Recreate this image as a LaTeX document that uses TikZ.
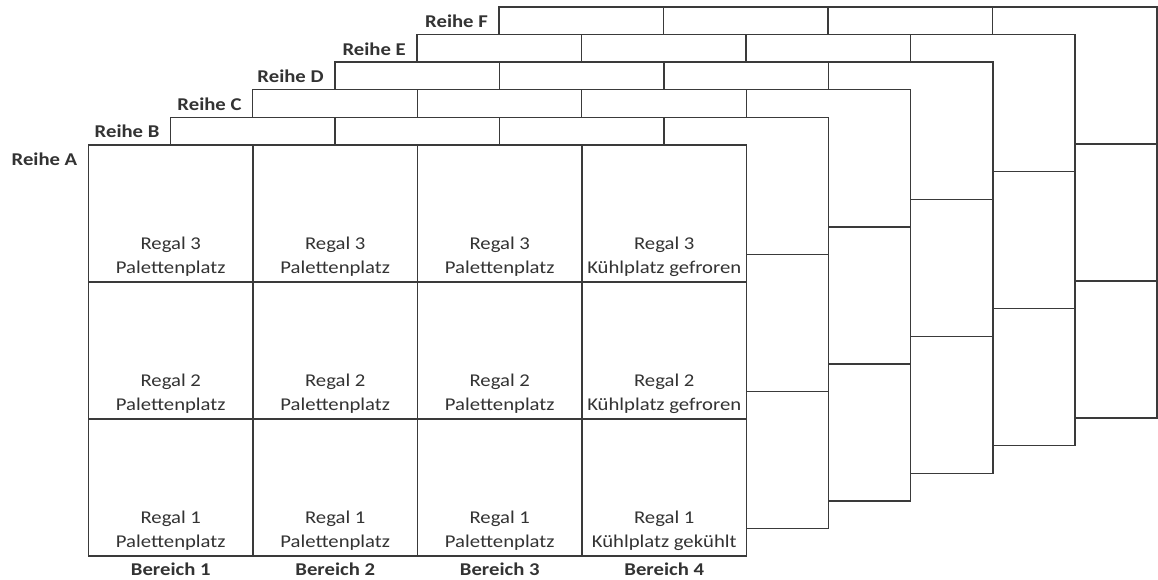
\documentclass[tikz,border=0pt]{standalone}
\usepackage{fontspec}
\setmainfont{Carlito}[FakeStretch=1.15]
\definecolor{ln}{HTML}{3A3A3A}
\definecolor{tx}{HTML}{333333}
\begin{document}
\begin{tikzpicture}[x=1pt,y=-1pt,
  layer/.style={draw=ln, line width=1.4pt, fill=white},
  gridline/.style={draw=ln, line width=1.4pt},
  celltext/.style={inner sep=0pt, anchor=base, text=tx, font=\fontsize{18}{22}\selectfont},
  reihe/.style={inner sep=0pt, anchor=base east, text=tx, font=\fontsize{18}{22}\selectfont\bfseries},
  bereich/.style={inner sep=0pt, anchor=base, text=tx, font=\fontsize{18}{22}\selectfont\bfseries}]
\useasboundingbox (0,0) rectangle (1158,580);
\fill[white] (0,0) rectangle (1158,580);
\foreach \k/\lab in {5/F,4/E,3/D,2/C,1/B,0/A} {
  \pgfmathsetmacro\L{88.5+82.1*\k}
  \pgfmathsetmacro\T{145-27.6*\k}
  \filldraw[layer] (\L,\T) rectangle ++(658,411);
  \foreach \i in {1,2,3} \draw[gridline] (\L+164.5*\i,\T) -- ++(0,411);
  \foreach \j in {1,2} \draw[gridline] (\L,\T+137*\j) -- ++(658,0);
  \node[reihe] (r\lab) at (\L-11,\T+20.5) {Reihe \lab};
}
% texts of Reihe A
\foreach \c in {0,1,2} {
  \pgfmathsetmacro\X{88.5+164.5*\c+82.25}
  \foreach \r/\n in {0/3,1/2,2/1} {
    \pgfmathsetmacro\Y{145+137*(\r+1)}
    \node[celltext] (a\c\r) at (\X,\Y-33) {Regal \n};
    \node[celltext] (b\c\r) at (\X,\Y-9) {Palettenplatz};
  }
}
\foreach \r/\n/\t in {0/3/Kühlplatz gefroren,1/2/Kühlplatz gefroren,2/1/Kühlplatz gekühlt} {
  \pgfmathsetmacro\X{88.5+164.5*3+82.25}
  \pgfmathsetmacro\Y{145+137*(\r+1)}
  \node[celltext] (a3\r) at (\X,\Y-33) {Regal \n};
  \node[celltext] (b3\r) at (\X,\Y-9) {\t};
}
\foreach \c/\n in {0/1,1/2,2/3,3/4} {
  \pgfmathsetmacro\X{88.5+164.5*\c+82.25}
  \node[bereich] (be\n) at (\X,575) {Bereich \n};
}
\end{tikzpicture}
\end{document}
